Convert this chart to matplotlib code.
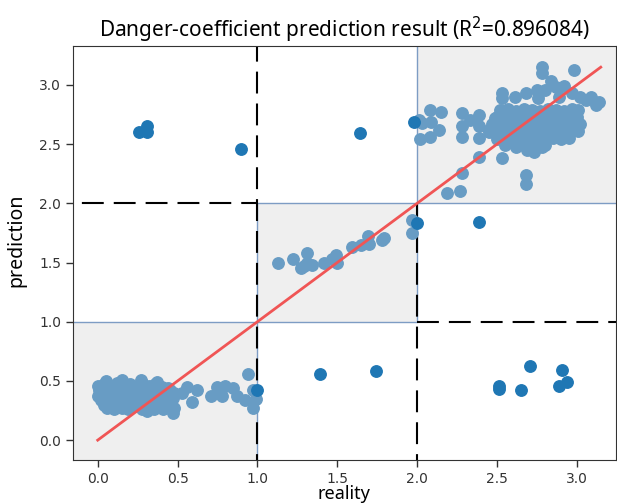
import matplotlib
matplotlib.use("Agg")
import matplotlib.pyplot as plt
from matplotlib.patches import Rectangle

# correctly classified samples (light blue)
ok_x = [
    # class 0 cluster
    0.00, 0.04, 0.08, 0.12, 0.16, 0.20, 0.24, 0.28, 0.32, 0.36, 0.40, 0.44,
    0.01, 0.05, 0.09, 0.13, 0.17, 0.21, 0.25, 0.29, 0.33, 0.37, 0.41, 0.45, 0.48,
    0.00, 0.03, 0.07, 0.11, 0.15, 0.19, 0.23, 0.27, 0.31, 0.35, 0.39, 0.43, 0.47,
    0.02, 0.06, 0.10, 0.14, 0.18, 0.22, 0.26, 0.30, 0.34, 0.38, 0.42, 0.46,
    0.04, 0.08, 0.12, 0.16, 0.20, 0.24, 0.28, 0.32, 0.36, 0.40, 0.44, 0.48,
    0.06, 0.10, 0.15, 0.19, 0.28, 0.31, 0.35, 0.41, 0.47,
    0.05, 0.15, 0.27, 0.37,
    0.56, 0.62, 0.59, 0.53, 0.71, 0.75, 0.80, 0.78, 0.85, 0.87, 0.94, 0.92, 0.97, 0.97, 0.99,
    # class 1 cluster
    1.13, 1.22, 1.27, 1.31, 1.31, 1.34, 1.29, 1.42, 1.49, 1.50, 1.47, 1.59, 1.65, 1.69, 1.70,
    1.78, 1.79, 1.97, 1.97,
    # class 2 cluster
    2.78, 2.78, 2.98, 2.84,
    2.53, 2.53, 2.61, 2.68, 2.75, 2.80, 2.87, 2.92, 2.97, 3.02, 3.09, 3.14, 3.12, 3.06, 2.76, 2.89,
    2.08, 2.15, 2.01, 2.03, 2.09, 2.14, 2.02, 2.08,
    2.28, 2.28, 2.28, 2.39, 2.39, 2.39, 2.33, 2.49, 2.45,
    2.52, 2.57, 2.62, 2.67, 2.72, 2.77, 2.82, 2.87, 2.92, 2.97, 3.01,
    2.50, 2.55, 2.60, 2.65, 2.70, 2.75, 2.80, 2.85, 2.90, 2.95, 3.00,
    2.47, 2.53, 2.58, 2.63, 2.68, 2.73, 2.78, 2.83, 2.88, 2.93, 2.98, 3.02,
    2.45, 2.51, 2.56, 2.61, 2.66, 2.71, 2.76, 2.81, 2.86, 2.91, 2.96, 3.01,
    2.50, 2.55, 2.60, 2.65, 2.70, 2.75, 2.80, 2.85, 2.90, 2.95,
    2.55, 2.62, 2.68, 2.74, 2.80,
    2.39, 2.53, 2.69, 2.73, 2.78, 2.68, 2.68, 2.28, 2.19, 2.27,
]
ok_y = [
    0.46, 0.47, 0.46, 0.48, 0.46, 0.47, 0.45, 0.48, 0.46, 0.47, 0.45, 0.44,
    0.42, 0.41, 0.43, 0.42, 0.41, 0.43, 0.42, 0.41, 0.43, 0.42, 0.41, 0.42, 0.40,
    0.37, 0.38, 0.37, 0.38, 0.37, 0.38, 0.37, 0.38, 0.37, 0.38, 0.37, 0.38, 0.36,
    0.34, 0.33, 0.34, 0.33, 0.34, 0.33, 0.34, 0.33, 0.34, 0.33, 0.34, 0.32,
    0.30, 0.29, 0.30, 0.29, 0.30, 0.29, 0.30, 0.29, 0.30, 0.29, 0.28, 0.27,
    0.27, 0.26, 0.27, 0.26, 0.26, 0.25, 0.26, 0.26, 0.23,
    0.50, 0.51, 0.51, 0.49,
    0.45, 0.42, 0.32, 0.40, 0.37, 0.45, 0.46, 0.37, 0.44, 0.37, 0.56, 0.34, 0.42, 0.27, 0.35,
    1.50, 1.53, 1.45, 1.58, 1.50, 1.48, 1.47, 1.50, 1.56, 1.50, 1.53, 1.63, 1.65, 1.72, 1.66,
    1.69, 1.71, 1.86, 1.75,
    3.15, 3.10, 3.13, 3.03,
    2.93, 2.89, 2.90, 2.93, 2.96, 2.96, 2.98, 2.99, 2.93, 2.90, 2.90, 2.86, 2.83, 2.87, 2.89, 2.90,
    2.79, 2.77, 2.70, 2.68, 2.69, 2.62, 2.54, 2.56,
    2.76, 2.65, 2.56, 2.75, 2.65, 2.55, 2.70, 2.72, 2.62,
    2.79, 2.80, 2.78, 2.80, 2.79, 2.78, 2.80, 2.79, 2.78, 2.80, 2.79,
    2.73, 2.74, 2.72, 2.74, 2.73, 2.72, 2.74, 2.73, 2.72, 2.74, 2.73,
    2.67, 2.66, 2.68, 2.67, 2.66, 2.68, 2.67, 2.66, 2.68, 2.67, 2.66, 2.67,
    2.60, 2.61, 2.60, 2.61, 2.60, 2.61, 2.60, 2.61, 2.60, 2.61, 2.60, 2.61,
    2.54, 2.55, 2.54, 2.55, 2.54, 2.55, 2.54, 2.55, 2.54, 2.55,
    2.49, 2.48, 2.49, 2.48, 2.49,
    2.39, 2.38, 2.45, 2.43, 2.48, 2.24, 2.16, 2.26, 2.09, 2.10,
]

# misclassified samples (dark blue)
bad_x = [0.26, 0.31, 0.31, 0.90, 1.64, 1.98, 2.39, 2.00, 1.39, 1.74,
         2.51, 2.51, 2.65, 2.71, 2.91, 2.89, 2.94, 1.00]
bad_y = [2.60, 2.65, 2.60, 2.46, 2.59, 2.69, 1.84, 1.83, 0.56, 0.58,
         0.46, 0.43, 0.42, 0.63, 0.59, 0.46, 0.49, 0.42]

r2 = 0.896084
ticks = [0.0, 0.5, 1.0, 1.5, 2.0, 2.5, 3.0]
tick_labels = ["0.0", "0.5", "1.0", "1.5", "2.0", "2.5", "3.0"]

fig = plt.figure(figsize=(6.17, 5.04), dpi=100)
ax = fig.add_axes([0.118, 0.087, 0.88, 0.822])
ax.set_xlim(-0.156, 3.244)
ax.set_ylim(-0.169, 3.33)

# shaded "correct" regions
for lo, hi in [(-0.5, 1), (1, 2), (2, 3.6)]:
    ax.add_patch(Rectangle((lo, lo), hi - lo, hi - lo, facecolor="#efefef",
                           edgecolor="#7d9cc4", lw=1, zorder=0.5))

dash = (0, (10.5, 4.8))
ax.plot([1, 1], [-0.3, 3.5], color="black", lw=1.5, ls=dash, zorder=1)
ax.plot([2, 2], [-0.3, 2], color="black", lw=1.5, ls=dash, zorder=1)
ax.plot([-0.3, 1], [2, 2], color="black", lw=1.5, ls=dash, zorder=1)
ax.plot([2, 3.5], [1, 1], color="black", lw=1.5, ls=dash, zorder=1)

ax.scatter(ok_x, ok_y, s=68, color="#689cc4", zorder=2)
ax.scatter(bad_x, bad_y, s=68, color="#1f77b4", zorder=2)
ax.plot([0, 3.15], [0, 3.15], color="#f05555", lw=2, zorder=3)

ax.set_xticks(ticks)
ax.set_xticklabels(tick_labels)
ax.set_yticks(ticks)
ax.set_yticklabels(tick_labels)
ax.tick_params(direction="out", length=5, width=1, colors="#333333", labelsize=10)
for s in ax.spines.values():
    s.set_color("#333333")

ax.set_title("Danger-coefficient prediction result (R$^2$=%.6f)" % r2,
             fontsize=15, family="Noto Sans", pad=6)
ax.set_xlabel("reality", fontsize=13, family="Noto Sans", labelpad=-1)
ax.set_ylabel("prediction", fontsize=14, family="Noto Sans")
ax.yaxis.set_label_coords(-0.085, 0.53)

fig.savefig("out.png", dpi=100)
